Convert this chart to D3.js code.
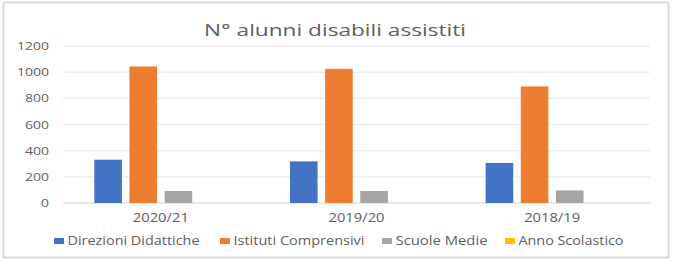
<!DOCTYPE html>
<html>
<head>
<meta charset="utf-8">
<script src="https://cdn.jsdelivr.net/npm/d3@7"></script>
<style>
  body { margin: 0; background: #fff; }
  text { font-family: "Open Sans", sans-serif; fill: #606060; }
</style>
</head>
<body>
<div id="chart"></div>
<script>
var categories = ['2020/21', '2019/20', '2018/19'];
var seriesNames = ['Direzioni Didattiche', 'Istituti Comprensivi', 'Scuole Medie', 'Anno Scolastico'];
var direzioni = [331, 318, 306];
var istituti = [1044, 1026, 891];
var scuoleMedie = [92, 92, 96];
var annoScolastico = [0, 0, 0];
var yTicks = [0, 200, 400, 600, 800, 1000, 1200];
var colors = ['#4472C4', '#ED7D31', '#A5A5A5', '#FFC000'];

var seriesValues = [direzioni, istituti, scuoleMedie, annoScolastico];
var data = categories.map(function(c, i) {
    return {
        cat: c,
        vals: seriesNames.map(function(s, j) { return { key: s, value: seriesValues[j][i] }; })
    };
});

var width = 673, height = 261;
var margin = { top: 46, right: 23, bottom: 58, left: 63 };
var innerW = width - margin.left - margin.right;
var innerH = height - margin.top - margin.bottom;

var svg = d3.select('#chart')
    .append('svg')
    .attr('width', width)
    .attr('height', height);

// outer frame
svg.append('rect')
    .attr('x', 3.5).attr('y', 2.5)
    .attr('width', 665).attr('height', 255)
    .attr('fill', '#fff')
    .attr('stroke', '#d9d9d9')
    .attr('stroke-width', 2);

svg.append('text')
    .attr('x', 335).attr('y', 36)
    .attr('text-anchor', 'middle')
    .attr('font-size', 17)
    .attr('textLength', 262)
    .attr('lengthAdjust', 'spacingAndGlyphs')
    .text('N° alunni disabili assistiti');

var g = svg.append('g')
    .attr('transform', 'translate(' + margin.left + ',' + margin.top + ')');

var y = d3.scaleLinear().domain([0, 1200]).range([innerH, 0]);
var x0 = d3.scaleBand().domain(categories).range([0, innerW]).padding(0);
var bw = x0.bandwidth();
var x1 = d3.scaleBand().domain(seriesNames)
    .range([bw * 0.16, bw * 0.84])
    .paddingInner(0.215).paddingOuter(0);

// grid
g.selectAll('line.grid')
    .data(yTicks)
    .enter()
    .append('line')
    .attr('class', 'grid')
    .attr('x1', 0).attr('x2', innerW)
    .attr('y1', function(d) { return y(d); })
    .attr('y2', function(d) { return y(d); })
    .attr('stroke', function(d) { return d === 0 ? '#e2e2e2' : '#eeeeee'; })
    .attr('stroke-width', 1.5);

g.selectAll('text.ytick')
    .data(yTicks)
    .enter()
    .append('text')
    .attr('class', 'ytick')
    .attr('x', -14)
    .attr('y', function(d) { return y(d); })
    .attr('dy', '0.35em')
    .attr('text-anchor', 'end')
    .attr('font-size', 11.5)
    .attr('textLength', function(d) { return String(d).length * 8; })
    .attr('lengthAdjust', 'spacingAndGlyphs')
    .text(function(d) { return d; });

var groups = g.selectAll('g.cat')
    .data(data)
    .enter()
    .append('g')
    .attr('class', 'cat')
    .attr('transform', function(d) { return 'translate(' + x0(d.cat) + ',0)'; });

groups.selectAll('rect')
    .data(function(d) { return d.vals; })
    .enter()
    .append('rect')
    .attr('x', function(d) { return x1(d.key); })
    .attr('width', x1.bandwidth())
    .attr('y', function(d) { return y(d.value); })
    .attr('height', function(d) { return innerH - y(d.value); })
    .attr('fill', function(d, i) { return colors[i]; });

g.selectAll('text.xlab')
    .data(categories)
    .enter()
    .append('text')
    .attr('class', 'xlab')
    .attr('x', function(d) { return x0(d) + bw / 2; })
    .attr('y', innerH + 19)
    .attr('text-anchor', 'middle')
    .attr('font-size', 12)
    .attr('textLength', 56)
    .attr('lengthAdjust', 'spacingAndGlyphs')
    .text(function(d) { return d; });

// legend
var legendX = [54, 220, 382, 505];
var legendW = [132, 131, 92, 105];
var legend = svg.selectAll('g.legend')
    .data(seriesNames)
    .enter()
    .append('g')
    .attr('class', 'legend')
    .attr('transform', function(d, i) { return 'translate(' + legendX[i] + ',241)'; });

legend.append('rect')
    .attr('x', 0).attr('y', -3)
    .attr('width', 10).attr('height', 6)
    .attr('fill', function(d, i) { return colors[i]; });

legend.append('text')
    .attr('x', 13.5)
    .attr('y', 0)
    .attr('dy', '0.35em')
    .attr('font-size', 12)
    .attr('textLength', function(d, i) { return legendW[i]; })
    .attr('lengthAdjust', 'spacingAndGlyphs')
    .text(function(d) { return d; });
</script>
</body>
</html>
